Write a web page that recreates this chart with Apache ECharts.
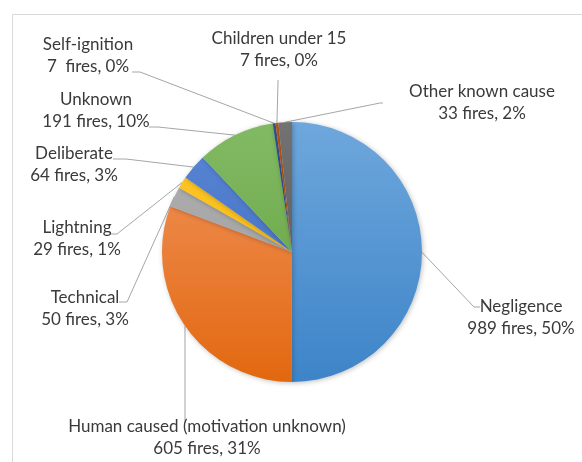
<!DOCTYPE html>
<html>
<head>
<meta charset="utf-8">
<style>
  html, body { margin: 0; padding: 0; background: #ffffff; }
  #chart { width: 582px; height: 462px; }
</style>
<script src="https://cdn.jsdelivr.net/npm/echarts@6/dist/echarts.min.js"></script>
</head>
<body>
<div id="chart"></div>
<script>
// Causes of fires, clockwise from twelve o'clock
const causes = [
  'Negligence',
  'Human caused (motivation unknown)',
  'Technical',
  'Lightning',
  'Deliberate',
  'Unknown',
  'Self-ignition',
  'Children under 15',
  'Other known cause'
];
const fires = [989, 605, 50, 29, 64, 191, 7, 7, 33];

// Slice shading: lighter tone at the top, deeper tone at the bottom
const topColors = ['#6ea7dc', '#f29561', '#b2b2b2', '#ffc82e', '#5a88d6', '#82ba64', '#31558f', '#b9581c', '#727272'];
const bottomColors = ['#3d84c8', '#e2680f', '#989898', '#f1b300', '#3864b6', '#629f3b', '#213f6e', '#8e3d0a', '#525252'];

// Label block centres and leader-line end points (bend, end)
const labelCentres = [
  [521, 318], [207, 438], [85, 309], [77, 239], [74, 165],
  [96, 111], [88, 56], [279, 50], [482, 103]
];
const leaderEnds = [
  [[474, 307], [480, 307]],
  [[185, 423], [185, 423]],
  [[127, 302], [119, 302]],
  [[117, 234], [110, 234]],
  [[126, 159], [113, 159]],
  [[158, 127], [149, 127]],
  [[140, 72], [132, 72]],
  [[278, 82], [278, 80]],
  [[380, 103], [383, 103]]
];

const centre = [292, 252];
const radius = 130;

const chart = echarts.init(document.getElementById('chart'), null, { renderer: 'canvas' });

const seriesData = causes.map((name, i) => ({
  name: name,
  value: fires[i],
  itemStyle: {
    color: new echarts.graphic.LinearGradient(0, centre[1] - radius, 0, centre[1] + radius, [
      { offset: 0, color: topColors[i] },
      { offset: 1, color: bottomColors[i] }
    ], true)
  }
}));

chart.setOption({
  animation: false,
  backgroundColor: '#ffffff',
  graphic: [{
    type: 'rect',
    silent: true,
    shape: { x: 12.5, y: 14.5, width: 700, height: 600 },
    style: { fill: 'none', stroke: '#d9d9d9', lineWidth: 1 }
  }],
  series: [{
    type: 'pie',
    center: centre,
    radius: radius,
    startAngle: 90,
    clockwise: true,
    percentPrecision: 0,
    avoidLabelOverlap: false,
    emphasis: { disabled: true },
    itemStyle: {
      borderWidth: 0,
      shadowBlur: 5,
      shadowOffsetX: 1,
      shadowOffsetY: 1,
      shadowColor: 'rgba(0,0,0,0.25)'
    },
    label: {
      show: true,
      position: 'outside',
      formatter: function (p) {
        return p.name + '\n' + p.value + (p.name === 'Self-ignition' ? '  fires, ' : ' fires, ') + p.percent + '%';
      },
      fontFamily: 'Lato, "Open Sans", sans-serif',
      fontSize: 17,
      lineHeight: 22,
      color: '#3a3a3a',
      align: 'center'
    },
    labelLine: {
      show: true,
      length: 10,
      length2: 10,
      smooth: false,
      lineStyle: { color: '#a6a6a6', width: 1 }
    },
    labelLayout: function (params) {
      const i = params.dataIndex;
      const c = labelCentres[i];
      const pts = params.labelLinePoints;
      const start = pts && pts[0] ? pts[0] : centre;
      return {
        x: c[0],
        y: c[1],
        align: 'center',
        verticalAlign: 'middle',
        labelLinePoints: [start, leaderEnds[i][0], leaderEnds[i][1]]
      };
    },
    data: seriesData
  }]
});
</script>
</body>
</html>
